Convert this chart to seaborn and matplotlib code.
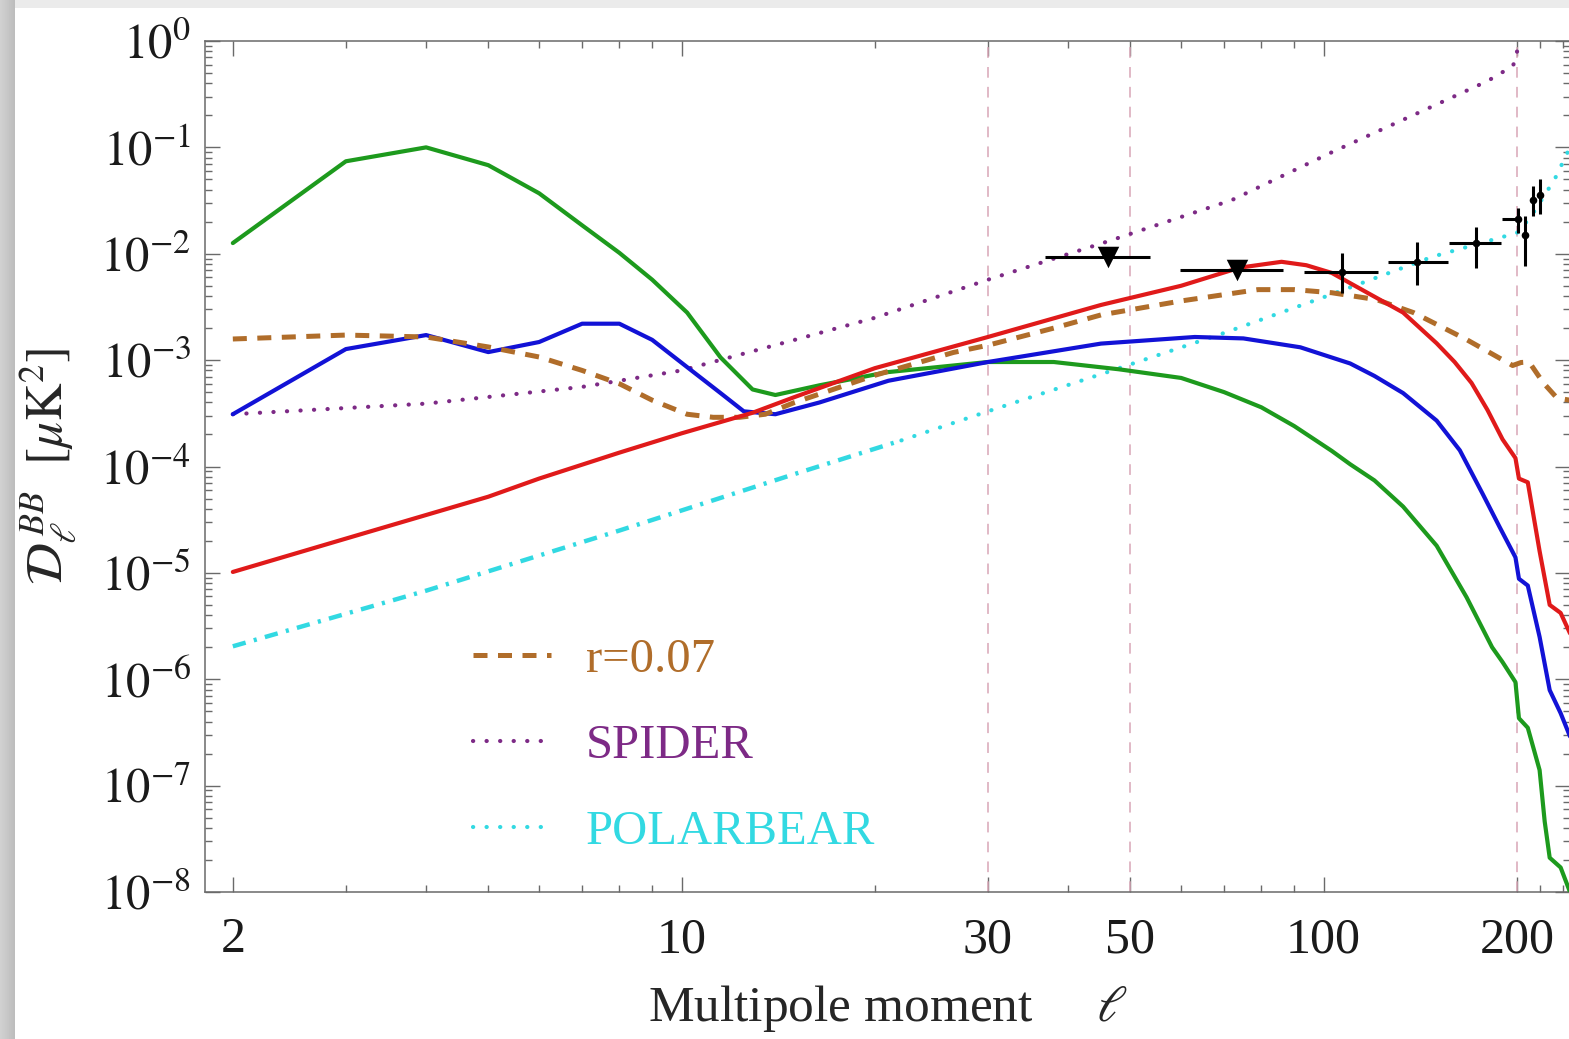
import numpy as np
import matplotlib
matplotlib.use("Agg")
import matplotlib.pyplot as plt
import seaborn as sns
from matplotlib.ticker import FixedLocator, NullFormatter

# ---------------- spectra (multipole, D_l^BB in muK^2) ----------------
ell_green = [2, 3, 4, 5, 6, 7, 8, 9, 10.2, 11.5, 12.9, 14.0, 16.4, 20.9, 30, 38, 48, 60,
             70, 80, 90, 103, 110, 120, 133, 150, 167, 183, 190, 199, 201.5, 208, 217,
             221, 225, 234, 242]
D_green = [1.26e-2, 7.4e-2, 1.0e-1, 6.8e-2, 3.7e-2, 1.85e-2, 1.02e-2, 5.7e-3, 2.8e-3,
           1.06e-3, 5.3e-4, 4.7e-4, 5.8e-4, 7.7e-4, 9.6e-4, 9.6e-4, 8.2e-4, 6.8e-4,
           5.0e-4, 3.6e-4, 2.4e-4, 1.4e-4, 1.05e-4, 7.4e-5, 4.2e-5, 1.8e-5, 5.9e-6,
           2.0e-6, 1.45e-6, 9.4e-7, 4.3e-7, 3.5e-7, 1.4e-7, 4.6e-8, 2.1e-8, 1.7e-8,
           1.0e-8]

ell_blue = [2, 3, 4, 5, 6, 7, 8, 9, 10.2, 11.5, 12.5, 14, 16.4, 21, 30, 45, 63, 75, 92,
            110, 120, 133, 150, 163, 177, 188, 199, 201.5, 208, 217, 225, 234, 242]
D_blue = [3.1e-4, 1.27e-3, 1.72e-3, 1.19e-3, 1.48e-3, 2.2e-3, 2.2e-3, 1.55e-3, 8.6e-4,
          4.9e-4, 3.3e-4, 3.1e-4, 4.0e-4, 6.4e-4, 9.6e-4, 1.43e-3, 1.65e-3, 1.6e-3,
          1.32e-3, 9.3e-4, 7.1e-4, 4.9e-4, 2.7e-4, 1.42e-4, 5.5e-5, 2.7e-5, 1.4e-5,
          8.8e-6, 7.6e-6, 2.5e-6, 7.9e-7, 4.8e-7, 2.9e-7]

ell_red = [2, 3, 4, 5, 6, 8, 10, 12.9, 15, 20, 30, 45, 60, 74, 86, 94, 103, 117, 133,
           150, 160, 170, 180, 190, 199, 201.5, 208, 217, 225, 234, 242]
D_red = [1.02e-5, 2.1e-5, 3.5e-5, 5.2e-5, 7.7e-5, 1.35e-4, 2.05e-4, 3.2e-4, 4.5e-4,
         8.4e-4, 1.65e-3, 3.3e-3, 5.0e-3, 7.4e-3, 8.4e-3, 7.8e-3, 6.6e-3, 4.3e-3,
         2.8e-3, 1.44e-3, 9.6e-4, 6.1e-4, 3.4e-4, 1.8e-4, 1.2e-4, 7.7e-5, 7.1e-5,
         1.6e-5, 5.0e-6, 4.2e-6, 2.7e-6]

ell_tensor = [2, 3, 4, 5, 6, 7, 8, 9, 10.2, 11.2, 12.3, 13.5, 15, 20, 26.5, 30, 38, 45,
              60, 79, 90, 103, 121, 138, 167, 197, 203, 209, 220, 231, 242]
D_tensor = [1.58e-3, 1.72e-3, 1.65e-3, 1.33e-3, 1.07e-3, 8.0e-4, 6.0e-4, 4.2e-4, 3.1e-4,
            2.9e-4, 2.9e-4, 3.1e-4, 4.0e-4, 7.2e-4, 1.18e-3, 1.38e-3, 2.0e-3, 2.66e-3,
            3.6e-3, 4.6e-3, 4.6e-3, 4.3e-3, 3.7e-3, 2.8e-3, 1.56e-3, 8.9e-4, 9.5e-4,
            9.6e-4, 6.1e-4, 4.4e-4, 4.2e-4]

ell_spider = [2, 4, 7, 10, 15, 20, 30, 46, 72, 103, 148, 180, 197, 200, 200.6]
D_spider = [3.1e-4, 3.9e-4, 5.6e-4, 8.0e-4, 1.55e-3, 2.5e-3, 5.7e-3, 1.3e-2, 3.2e-2,
            9.0e-2, 2.44e-1, 4.2e-1, 5.8e-1, 7.0e-1, 1.3]

ell_pb_low = [2, 4, 8, 15, 22]
D_pb_low = [2.04e-6, 6.8e-6, 2.5e-5, 8.5e-5, 1.76e-4]
ell_pb_high = [22, 30, 46, 70, 100, 148, 200, 210, 229, 242]
D_pb_high = [1.76e-4, 3.3e-4, 7.7e-4, 1.8e-3, 3.9e-3, 9.4e-3, 1.57e-2, 2.2e-2, 5.0e-2, 1.0e-1]

# ---------------- measurements ----------------
ul_ell = [46.1, 73.3]
ul_ell_lo = [36.8, 59.7]
ul_ell_hi = [53.6, 86.4]
ul_val = [9.4e-3, 7.06e-3]

bp_ell = [107, 140, 173, 200.7, 205.8, 212, 217]
bp_ell_lo = [93.2, 126, 157, 189.5, 205.8, 210.5, 215.5]
bp_ell_hi = [121.5, 156, 189, 203, 205.8, 213.5, 218.5]
bp_val = [6.8e-3, 8.4e-3, 1.27e-2, 2.1e-2, 1.51e-2, 3.2e-2, 3.6e-2]
bp_lo = [4.3e-3, 5.1e-3, 7.4e-3, 1.57e-2, 7.6e-3, 2.24e-2, 2.34e-2]
bp_hi = [1.02e-2, 1.28e-2, 1.8e-2, 2.7e-2, 2.24e-2, 4.3e-2, 5.0e-2]

ell_bounds = [30, 50, 200]

x_major = [2, 10, 30, 50, 100, 200]
x_major_labels = ["2", "10", "30", "50", "100", "200"]
x_minor = [3, 4, 5, 6, 7, 8, 9, 20, 40, 60, 70, 80, 90, 217, 236]
y_exponents = list(range(-8, 1))

legend_labels = ["r=0.07", "SPIDER", "POLARBEAR"]

# ---------------- style ----------------
sns.set_theme(style="ticks")
plt.rcParams.update({
    "font.family": ["Liberation Serif", "DejaVu Serif"],
    "mathtext.fontset": "stix",
    "axes.edgecolor": "#6a6a6a",
    "axes.linewidth": 1.1,
    "xtick.color": "#6a6a6a",
    "ytick.color": "#6a6a6a",
    "xtick.labelcolor": "#1a1a1a",
    "ytick.labelcolor": "#1a1a1a",
})

c_green = "#1d9a1d"
c_blue = "#1212d6"
c_red = "#e01a1a"
c_brown = "#b06d2a"
c_purple = "#7d2a86"
c_cyan = "#32d9e2"

W, H = 1569, 1039
fig = plt.figure(figsize=(W / 100, H / 100), dpi=100)

# page backdrop with the grey margins
bg = fig.add_axes([0, 0, 1, 1], zorder=-10)
backdrop = np.ones((H, W))
backdrop[:8, :] = 0.92
backdrop[:, :15] = np.linspace(0.82, 0.74, 15)[None, :]
bg.imshow(backdrop, cmap="gray", vmin=0, vmax=1, aspect="auto",
          extent=[0, 1, 0, 1], interpolation="bilinear")
bg.axis("off")

ax = fig.add_axes([205 / W, 147 / H, 1365 / W, 851 / H])
ax.set_facecolor("white")
ax.set_xscale("log")
ax.set_yscale("log")
ax.set_xlim(1.81, 242)
ax.set_ylim(1e-8, 1.0)


def draw(ell, val, **kw):
    sns.lineplot(x=ell, y=val, ax=ax, sort=False, estimator=None, legend=False, **kw)
    line = ax.lines[-1]
    line.set_solid_joinstyle("round")
    return line


for xb in ell_bounds:
    ax.axvline(xb, color="#d8a6b6", lw=1.1, ls=(0, (7, 6)), zorder=1)

draw(ell_green, D_green, color=c_green, linewidth=3.0, zorder=3)
draw(ell_blue, D_blue, color=c_blue, linewidth=3.0, zorder=3)
draw(ell_red, D_red, color=c_red, linewidth=3.0, zorder=4)
h_tensor = draw(ell_tensor, D_tensor, color=c_brown, linewidth=3.6,
                linestyle=(0, (2.8, 2.1)), zorder=3)
h_spider = draw(ell_spider, D_spider, color=c_purple, linewidth=3.0,
                linestyle=(0, (0.05, 3.2)), dash_capstyle="round", zorder=2)
draw(ell_pb_low, D_pb_low, color=c_cyan, linewidth=3.2,
     linestyle=(0, (3.0, 1.9, 0.7, 1.9)), zorder=2)
h_pb = draw(ell_pb_high, D_pb_high, color=c_cyan, linewidth=3.0,
            linestyle=(0, (0.05, 3.2)), dash_capstyle="round", zorder=2)

# upper limits
ul_ell_a = np.array(ul_ell)
ax.errorbar(ul_ell, ul_val,
            xerr=[ul_ell_a - np.array(ul_ell_lo), np.array(ul_ell_hi) - ul_ell_a],
            fmt="none", ecolor="black", elinewidth=2.2, capsize=0, zorder=6)
sns.scatterplot(x=ul_ell, y=ul_val, ax=ax, marker="v", s=240, color="black",
                edgecolor="black", linewidth=0, zorder=7, legend=False)

# band powers
bp_ell_a = np.array(bp_ell)
bp_val_a = np.array(bp_val)
ax.errorbar(bp_ell, bp_val,
            xerr=[bp_ell_a - np.array(bp_ell_lo), np.array(bp_ell_hi) - bp_ell_a],
            yerr=[bp_val_a - np.array(bp_lo), np.array(bp_hi) - bp_val_a],
            fmt="none", ecolor="black", elinewidth=2.2, capsize=0, zorder=6)
sns.scatterplot(x=bp_ell, y=bp_val, ax=ax, marker="o", s=30, color="black",
                edgecolor="black", linewidth=0, zorder=7, legend=False)

# axes, ticks
ax.xaxis.set_major_locator(FixedLocator(x_major))
ax.set_xticklabels(x_major_labels)
ax.xaxis.set_minor_locator(FixedLocator(x_minor))
ax.xaxis.set_minor_formatter(NullFormatter())
ax.set_yticks([10.0 ** k for k in y_exponents],
              [rf"$10^{{{k}}}$" if k < 0 else r"$10^{0}$" for k in y_exponents])
ax.yaxis.set_minor_locator(FixedLocator(
    [m * 10.0 ** k for k in range(-8, 0) for m in range(2, 10)]))
ax.yaxis.set_minor_formatter(NullFormatter())
ax.tick_params(which="both", direction="in", top=True, right=True, width=1.0)
ax.tick_params(which="major", length=11)
ax.tick_params(which="minor", length=5)
ax.tick_params(axis="x", which="major", pad=18, labelsize=36)
ax.tick_params(axis="y", which="major", pad=10, labelsize=35)
for sp in ax.spines.values():
    sp.set_visible(True)

ax.set_xlabel(r"Multipole moment     $\ell$", fontsize=37, labelpad=14)
ax.set_ylabel(r"$\mathcal{D}_{\ell}^{\;BB}\ \ [\mu\mathrm{K}^2]$", fontsize=37, labelpad=16)

leg = ax.legend(handles=[h_tensor, h_spider, h_pb], labels=legend_labels,
                loc="upper left", bbox_to_anchor=(473 / W, 1 - 638 / H),
                bbox_transform=fig.transFigure, frameon=False, fontsize=35,
                handlelength=1.6, handletextpad=0.72, labelspacing=0.86,
                borderpad=0, borderaxespad=0)
for txt, col in zip(leg.get_texts(), [c_brown, c_purple, c_cyan]):
    txt.set_color(col)

fig.savefig("out.png", dpi=100)
